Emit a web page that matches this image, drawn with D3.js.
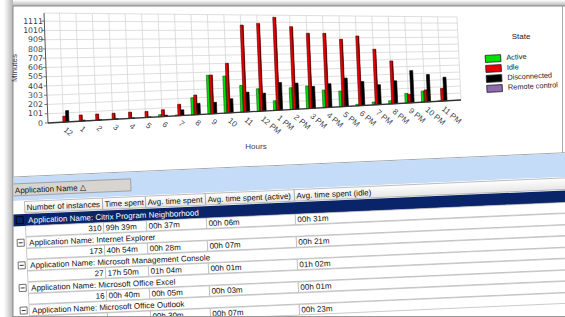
<!DOCTYPE html>
<html>
<head>
<meta charset="utf-8">
<script src="https://cdn.jsdelivr.net/npm/d3@7"></script>
<style>
body { margin: 0; background: #fff; }
svg { display: block; font-family: "Liberation Sans", Arial, sans-serif; }
</style>
</head>
<body>
<div class="chart"></div>
<script>

// ---- data ----
const hours = ["12","1","2","3","4","5","6","7","8","9","10","11",
    "12 PM","1 PM","2 PM","3 PM","4 PM","5 PM","6 PM","7 PM","8 PM","9 PM","10 PM","11 PM"];
const active       = [0,0,0,0,0,0,25,10,205,468,452,330,281,121,277,291,230,207,20,39,44,133,155,5];
const idle         = [65,69,70,69,72,70,80,135,236,470,607,1074,1096,1173,1056,971,969,890,933,752,588,119,169,181];
const disconnected = [125,10,5,5,5,5,15,67,135,138,172,244,223,348,333,282,308,375,322,269,314,447,384,338];
const remote       = [0,0,0,0,0,0,0,0,0,0,0,0,0,0,0,0,0,0,0,0,0,0,0,0];
const yTicks = [0,101,202,303,404,505,606,707,808,909,1010,1111];

const states = ["Active","Idle","Disconnected","Remote control"];
const stateColors = ["#00e000","#e80000","#000000","#8c6cae"];
const stateEdges  = ["#0a5a0a","#5a0000","#000000","#3c2c50"];

const columns = ["Number of instances","Time spent","Avg. time spent","Avg. time spent (active)","Avg. time spent (idle)"];
const apps      = ["Citrix Program Neighborhood","Internet Explorer","Microsoft Management Console","Microsoft Office Excel","Microsoft Office Outlook"];
const instances = ["310","173","27","16",""];
const timeSpent = ["99h 39m","40h 54m","17h 50m","00h 40m",""];
const avgTime   = ["00h 37m","00h 28m","01h 04m","00h 05m","00h 30m"];
const avgActive = ["00h 06m","00h 07m","00h 01m","00h 03m","00h 07m"];
const avgIdle   = ["00h 31m","00h 21m","01h 02m","00h 01m","00h 23m"];

const series = [active, idle, disconnected, remote];

const svg = d3.select(".chart").append("svg")
    .attr("width", 565)
    .attr("height", 317);

const defs = svg.append("defs");
const gl = defs.append("linearGradient").attr("id","shL").attr("x1",0).attr("x2",1).attr("y1",0).attr("y2",0);
gl.append("stop").attr("offset","0").attr("stop-color","#fff");
gl.append("stop").attr("offset","1").attr("stop-color","#b4b4b4");
const gt = defs.append("linearGradient").attr("id","shT").attr("x1",0).attr("x2",0).attr("y1",0).attr("y2",1);
gt.append("stop").attr("offset","0").attr("stop-color","#fff");
gt.append("stop").attr("offset","1").attr("stop-color","#b4b4b4");
const gh = defs.append("linearGradient").attr("id","hdr").attr("x1",0).attr("x2",0).attr("y1",0).attr("y2",1);
gh.append("stop").attr("offset","0").attr("stop-color","#ffffff");
gh.append("stop").attr("offset","1").attr("stop-color","#e6e6e6");
defs.append("clipPath").attr("id","tclip")
    .append("rect").attr("x",13.5).attr("y",140).attr("width",560).attr("height",176);

// ---- frame ----
svg.append("rect").attr("x",4).attr("y",0).attr("width",9).attr("height",317).attr("fill","url(#shL)");
svg.append("rect").attr("x",13).attr("y",0).attr("width",552).attr("height",6).attr("fill","url(#shT)");
svg.append("rect").attr("x",13).attr("y",6).attr("width",552).attr("height",311).attr("fill","#fff");
svg.append("line").attr("x1",13).attr("x2",565).attr("y1",6).attr("y2",6).attr("stroke","#888");
svg.append("line").attr("x1",13).attr("x2",13).attr("y1",6).attr("y2",317).attr("stroke","#888");
svg.append("line").attr("x1",562.5).attr("x2",562.5).attr("y1",6).attr("y2",153).attr("stroke","#aaa");

// ---- chart, drawn on a tilted plane ----
const plotW = 413;
const xScale = d3.scalePoint().domain(hours).range([0, 411]).padding(1);
const yScale = d3.scaleLinear().domain([0, 1200]).range([0, 1]);
const sub = d3.scaleBand().domain(states.slice(0, 3)).range([-4.5, 4.5]);

function proj(px, v) {
    const u = px / plotW;
    const xb = 48 + px, xt = 44 + px;
    const yb = 123 - 23 * u, yt = 13 + 4 * u;
    return [xb + (xt - xb) * v, yb + (yt - yb) * v];
}

const chart = svg.append("g");

// grid
yTicks.concat([1200]).forEach(t => {
    const a = proj(0, yScale(t)), b = proj(plotW, yScale(t));
    chart.append("line").attr("x1",a[0]).attr("y1",a[1]).attr("x2",b[0]).attr("y2",b[1])
        .attr("stroke","#d6d6d6").attr("stroke-width",0.8);
});
hours.forEach(h => {
    const a = proj(xScale(h) - 1, 0), b = proj(xScale(h) - 1, 1);
    chart.append("line").attr("x1",a[0]).attr("y1",a[1]).attr("x2",b[0]).attr("y2",b[1])
        .attr("stroke","#d6d6d6").attr("stroke-width",0.8);
});
{
    const a = proj(plotW, 0), b = proj(plotW, 1);
    chart.append("line").attr("x1",a[0]).attr("y1",a[1]).attr("x2",b[0]).attr("y2",b[1])
        .attr("stroke","#d6d6d6").attr("stroke-width",0.8);
}

// bars
const bars = [];
hours.forEach((h, i) => {
    states.slice(0, 3).forEach((s, k) => {
        const val = series[k][i];
        if (val > 0) bars.push({h: h, s: s, k: k, val: val});
    });
});
chart.selectAll(".bar")
    .data(bars)
    .enter()
    .append("polygon")
    .attr("class","bar")
    .attr("points", d => {
        const x0 = xScale(d.h) + sub(d.s), x1 = x0 + sub.bandwidth(), v = yScale(d.val);
        return [proj(x0,0), proj(x1,0), proj(x1,v), proj(x0,v)].map(p => p.join(",")).join(" ");
    })
    .attr("fill", d => stateColors[d.k])
    .attr("stroke", d => stateEdges[d.k])
    .attr("stroke-width", 0.6);

// dark side of each bar
chart.selectAll(".side")
    .data(bars.filter(d => d.k < 2))
    .enter()
    .append("polygon")
    .attr("points", d => {
        const x1 = xScale(d.h) + sub(d.s) + sub.bandwidth(), x0 = x1 - 0.9, v = yScale(d.val);
        return [proj(x0,0), proj(x1,0), proj(x1,v), proj(x0,v)].map(p => p.join(",")).join(" ");
    })
    .attr("fill", d => stateEdges[d.k]);

// axes
{
    const a = proj(0, 0), b = proj(0, 1), c = proj(plotW, 0);
    chart.append("line").attr("x1",a[0]).attr("y1",a[1]).attr("x2",b[0]).attr("y2",b[1])
        .attr("stroke","#555").attr("stroke-width",1);
    chart.append("line").attr("x1",a[0]).attr("y1",a[1]).attr("x2",c[0]).attr("y2",c[1])
        .attr("stroke","#333").attr("stroke-width",1.3);
}
yTicks.forEach(t => {
    const p = proj(0, yScale(t));
    chart.append("line").attr("x1",p[0] - 3).attr("x2",p[0]).attr("y1",p[1]).attr("y2",p[1])
        .attr("stroke","#555").attr("stroke-width",0.8);
    chart.append("text").attr("x",43).attr("y",p[1]).attr("dy","0.35em")
        .attr("text-anchor","end").attr("font-size",7.8).attr("fill","#3c3c4c")
        .style("font-family","'DejaVu Sans', sans-serif")
        .text(t);
});
hours.forEach(h => {
    const p = proj(xScale(h), 0);
    chart.append("text")
        .attr("transform", `translate(${p[0] + 0.5},${p[1] + 6.5}) rotate(40)`)
        .attr("dy","0.35em").attr("font-size",8).attr("fill","#3c3c4c")
        .text(h);
});
chart.append("text").attr("transform","translate(14,68) rotate(-90)")
    .attr("text-anchor","middle").attr("dy","0.35em").attr("font-size",8).attr("fill","#3c3c4c")
    .text("Minutes");
chart.append("text").attr("x",256).attr("y",145.7).attr("dy","0.35em")
    .attr("text-anchor","middle").attr("font-size",8).attr("fill","#3c3c4c")
    .text("Hours");

// legend
chart.append("text").attr("x",521).attr("y",36).attr("dy","0.35em")
    .attr("text-anchor","middle").attr("font-size",8).attr("fill","#222").text("State");
const legend = chart.append("g").attr("transform","rotate(-3,494,72)");
states.forEach((s, i) => {
    const y = 55 + i * 10;
    legend.append("rect").attr("x",486).attr("y",y).attr("width",15.5).attr("height",7)
        .attr("fill",stateColors[i]).attr("stroke","#222").attr("stroke-width",0.8);
    legend.append("text").attr("x",507).attr("y",y + 3).attr("dy","0.35em")
        .attr("font-size",7.4).attr("fill","#222").text(s);
});

// ---- grid below the chart ----
const tbl = svg.append("g").attr("clip-path","url(#tclip)")
    .append("g").attr("transform","rotate(-2.5,13,215)");

tbl.append("line").attr("x1",0).attr("x2",640).attr("y1",177).attr("y2",177).attr("stroke","#a8a8a8");
tbl.append("rect").attr("x",0).attr("y",177.5).attr("width",640).attr("height",23.5).attr("fill","#c4dcf8");
tbl.append("rect").attr("x",14).attr("y",184).attr("width",118).attr("height",12)
    .attr("fill","#d8d5d0").attr("stroke","#8a8a8a").attr("stroke-width",0.7);
tbl.append("text").attr("x",16).attr("y",190.5).attr("dy","0.35em").attr("font-size",8).attr("fill","#111")
    .text("Application Name \u25B3");

const colX = [25, 103, 146, 206, 295, 640];
tbl.append("rect").attr("x",0).attr("y",201).attr("width",640).attr("height",13).attr("fill","#fff");
columns.forEach((c, j) => {
    tbl.append("rect").attr("x",colX[j]).attr("y",202).attr("width",colX[j + 1] - colX[j]).attr("height",11.5)
        .attr("fill","url(#hdr)").attr("stroke","#a0a0a0").attr("stroke-width",0.7);
    tbl.append("text").attr("x",colX[j] + 2).attr("y",208).attr("dy","0.35em")
        .attr("font-size",8).attr("fill","#111").text(c);
});

const step = 22.6;
apps.forEach((a, i) => {
    const ly = 215 + i * step;
    if (i === 0) {
        tbl.append("rect").attr("x",0).attr("y",ly - 0.5).attr("width",640).attr("height",12).attr("fill","#0a246a");
        tbl.append("rect").attr("x",16).attr("y",ly + 2).attr("width",7).attr("height",7)
            .attr("fill","#0a246a").attr("stroke","#000").attr("stroke-width",0.8);
    } else {
        tbl.append("rect").attr("x",25).attr("y",ly).attr("width",620).attr("height",11)
            .attr("fill","#fff").attr("stroke","#b4b4b4").attr("stroke-width",0.7);
        tbl.append("rect").attr("x",16).attr("y",ly + 2).attr("width",7).attr("height",7)
            .attr("fill","#fff").attr("stroke","#555").attr("stroke-width",0.8);
        tbl.append("line").attr("x1",17.5).attr("x2",21.5).attr("y1",ly + 5.5).attr("y2",ly + 5.5)
            .attr("stroke","#222").attr("stroke-width",0.9);
    }
    tbl.append("text").attr("x",28).attr("y",ly + 5.8).attr("dy","0.35em").attr("font-size",8)
        .attr("fill", i === 0 ? "#fff" : "#111")
        .text("Application Name: " + a);

    const dy = ly + 11.5;
    const vals = [instances[i], timeSpent[i], avgTime[i], avgActive[i], avgIdle[i]];
    vals.forEach((v, j) => {
        tbl.append("rect").attr("x",colX[j]).attr("y",dy).attr("width",colX[j + 1] - colX[j]).attr("height",10.5)
            .attr("fill","#fff").attr("stroke","#b4b4b4").attr("stroke-width",0.7);
        tbl.append("text")
            .attr("x", j === 0 ? colX[1] - 2 : colX[j] + 2)
            .attr("text-anchor", j === 0 ? "end" : "start")
            .attr("y",dy + 5.3).attr("dy","0.35em").attr("font-size",8).attr("fill","#111")
            .text(v);
    });
});

svg.append("line").attr("x1",13).attr("x2",565).attr("y1",316.5).attr("y2",316.5).attr("stroke","#999");

</script>
</body>
</html>
